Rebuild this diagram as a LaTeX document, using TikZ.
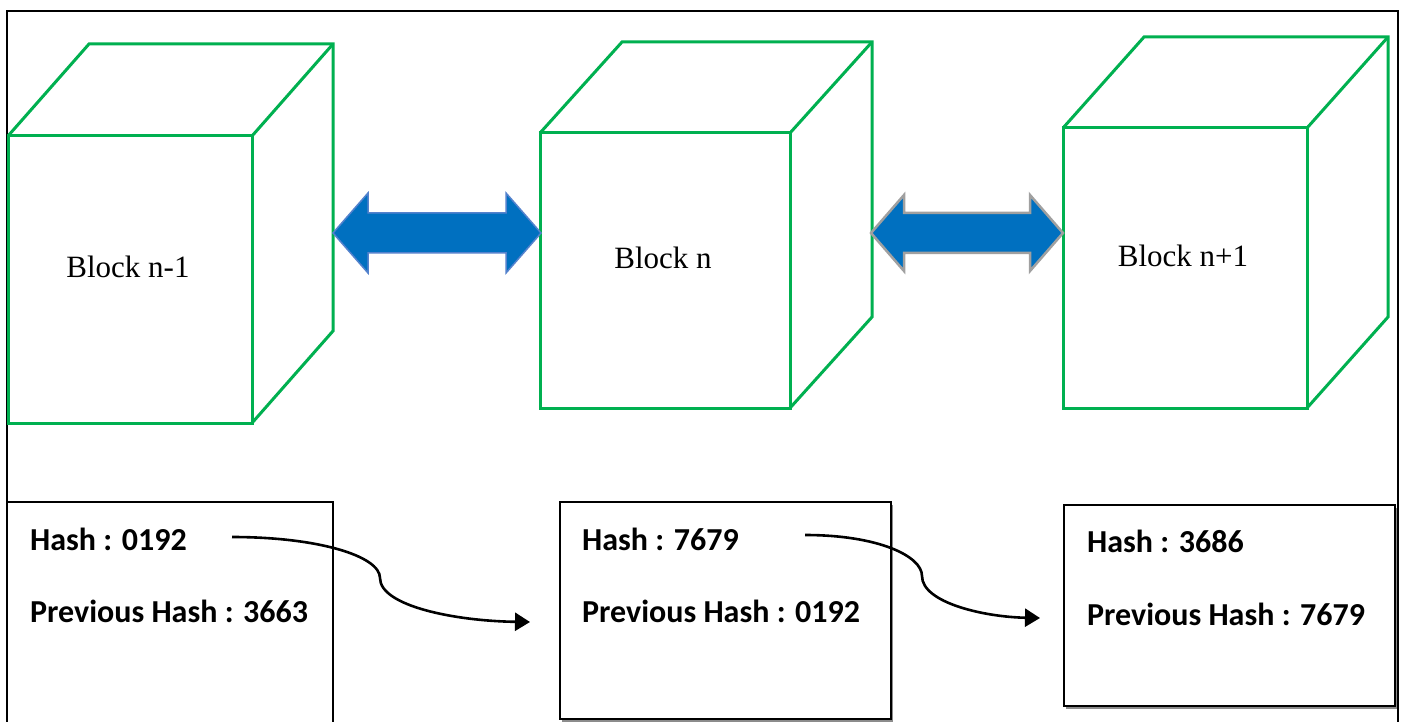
\documentclass[tikz,border=0pt]{standalone}
\usepackage{fontspec}
\setmainfont{Liberation Serif}
\newfontfamily\hashfont{Carlito}
\usetikzlibrary{calc,arrows.meta,shadows}
\definecolor{cubegreen}{RGB}{0,176,80}
\definecolor{arrowblue}{RGB}{0,112,192}
\definecolor{arrowedge}{RGB}{84,130,205}
\definecolor{arrowgray}{RGB}{160,160,160}
\tikzset{
  face/.style={draw=cubegreen, line width=3pt, fill=white, inner sep=0pt, outer sep=0pt, anchor=north west},
  cubeedge/.style={draw=cubegreen, line width=3pt, line join=miter},
  blocklabel/.style={inner sep=0pt, font=\fontsize{31}{37}\selectfont},
  hashbox/.style={draw=black, fill=white, line width=1.8pt, inner sep=0pt, outer sep=0pt, anchor=north west},
  shadowbox/.style={hashbox, drop shadow={shadow xshift=1.5pt, shadow yshift=-2.5pt, fill=black!45, opacity=1}},
  hashtext/.style={inner sep=0pt, anchor=west, font=\hashfont\bfseries\fontsize{32}{38}\selectfont},
  bigarrow/.style={fill=arrowblue, line join=miter},
  link/.style={draw=black, line width=2.6pt, -{Triangle[length=15pt,width=18pt]}},
}
\begin{document}
\begin{tikzpicture}[x=1pt,y=-1pt]
\useasboundingbox (0,0) rectangle (1403,722);
\clip (0,0) rectangle (1403,722);
\fill[white] (0,0) rectangle (1403,722);
% outer frame
\draw[line width=2pt] (7,760) -- (7,11) -- (1398,11) -- (1398,760);

% cubes (front faces)
\node[face, minimum width=244, minimum height=287] (f1) at (8,136) {};
\node[face, minimum width=250, minimum height=275] (f2) at (540,133) {};
\node[face, minimum width=244, minimum height=280] (f3) at (1063,128) {};
\foreach \f/\dx/\dy in {f1/81/-92, f2/82/-91, f3/81/-91}{
  \draw[cubeedge] (\f.north west) -- ($(\f.north west)+(\dx,\dy)$) -- ($(\f.north east)+(\dx,\dy)$)
     -- ($(\f.south east)+(\dx,\dy)$) -- (\f.south east);
  \draw[cubeedge] (\f.north east) -- ($(\f.north east)+(\dx,\dy)$);
}
\node[blocklabel] (l1) at (128,267) {Block n-1};
\node[blocklabel] (l2) at (663,258) {Block n};
\node[blocklabel] (l3) at (1183,256) {Block n+1};

% block arrows between cubes
\coordinate (a1l) at (333,233);
\coordinate (a1r) at (541,233);
\coordinate (a2l) at (871,233);
\coordinate (a2r) at (1063,233);
\draw[bigarrow, draw=arrowedge, line width=1.5pt]
  (a1l) -- ($(a1l)+(35,-40)$) -- ($(a1l)+(35,-20)$) -- ($(a1r)+(-35,-20)$) -- ($(a1r)+(-35,-40)$)
  -- (a1r) -- ($(a1r)+(-35,40)$) -- ($(a1r)+(-35,20)$) -- ($(a1l)+(35,20)$) -- ($(a1l)+(35,40)$) -- cycle;
\draw[bigarrow, draw=arrowgray, line width=2.5pt]
  (a2l) -- ($(a2l)+(33,-38)$) -- ($(a2l)+(33,-20)$) -- ($(a2r)+(-33,-20)$) -- ($(a2r)+(-33,-38)$)
  -- (a2r) -- ($(a2r)+(-33,38)$) -- ($(a2r)+(-33,20)$) -- ($(a2l)+(33,20)$) -- ($(a2l)+(33,38)$) -- cycle;

% hash boxes
\node[hashbox, minimum width=326, minimum height=260] (b1) at (7,502) {};
\node[shadowbox, minimum width=331, minimum height=217] (b2) at (560,502) {};
\node[shadowbox, minimum width=331, minimum height=201] (b3) at (1064,505) {};

\node[hashtext] (h1) at (30,539) {Hash : 0192};
\node[hashtext] (p1) at (30,611) {Previous Hash : 3663};
\node[hashtext] (h2) at (582,539) {Hash : 7679};
\node[hashtext] (p2) at (582,611) {Previous Hash : 0192};
\node[hashtext] (h3) at (1087,541) {Hash : 3686};
\node[hashtext] (p3) at (1087,614) {Previous Hash : 7679};

% links between boxes
\coordinate (c1s) at (232,537);
\coordinate (c1e) at (530,622);
\coordinate (c2s) at (805,535);
\coordinate (c2e) at (1040,618);
\draw[link] (c1s) .. controls (318,537) and (380,556) .. (380,578)
  .. controls (380,606) and (455,621) .. (c1e);
\draw[link] (c2s) .. controls (878,535) and (922,556) .. (922,576)
  .. controls (922,603) and (985,617) .. (c2e);
\end{tikzpicture}
\end{document}
